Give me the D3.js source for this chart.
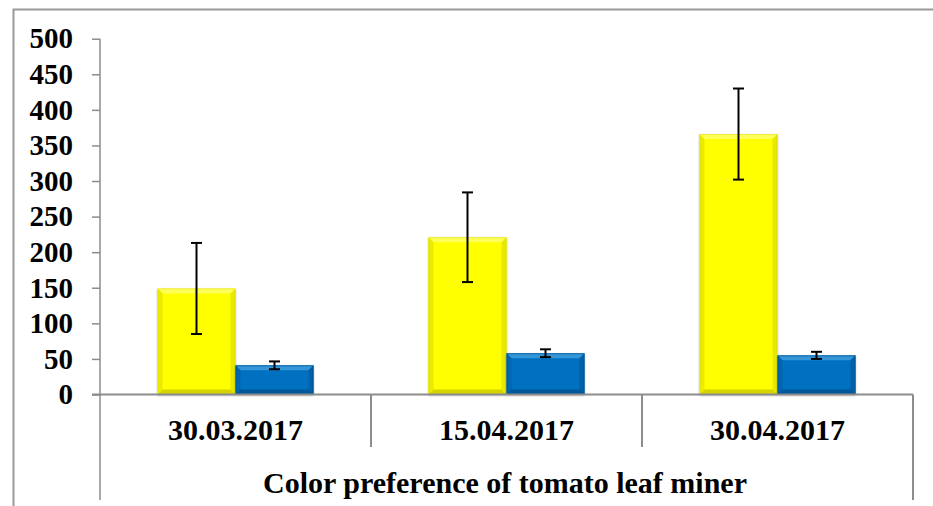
<!DOCTYPE html>
<html>
<head>
<meta charset="utf-8">
<script src="https://cdn.jsdelivr.net/npm/d3@7"></script>
<style>
  html, body { margin: 0; padding: 0; background: #fff; }
  svg { display: block; }
  text { font-family: "Liberation Serif", "Times New Roman", serif; font-weight: bold; fill: #000; }
</style>
</head>
<body>
<svg id="chart" width="933" height="506"></svg>
<script>
// ---- data ----
const categories = ["30.03.2017", "15.04.2017", "30.04.2017"];
const seriesNames = ["Yellow", "Blue"];
const yellowValues = [149, 221, 366];
const yellowErrors = [64, 63, 64];
const blueValues = [41, 58, 55];
const blueErrors = [5.5, 5.5, 5];
const yTicks = [0, 50, 100, 150, 200, 250, 300, 350, 400, 450, 500];
const axisTitle = "Color preference of tomato leaf miner";

(function () {
const series = [
  { name: seriesNames[0], values: yellowValues, errors: yellowErrors,
    fill: "#FFFF00", light: "#FFFF80", dark: "#E6E600", darker: "#C9C900", op: [0.7, 0.8, 0.9, 0.8], edge: 0.35 },
  { name: seriesNames[1], values: blueValues, errors: blueErrors,
    fill: "#0070C0", light: "#3D9BDB", dark: "#005A9E", darker: "#004F8A", op: [0.85, 0.45, 0.7, 0.7], edge: 0.6 }
];

const svg = d3.select("#chart");
const W = 933, H = 506;
const pL = 100, pR = 913, pT = 38.7, pB = 394.5;

svg.append("path")
  .attr("d", `M13.5,${H} L13.5,9.5 L${W},9.5`)
  .attr("fill", "none").attr("stroke", "#9a9a9a").attr("stroke-width", 2);

const y = d3.scaleLinear().domain([0, 500]).range([pB, pT]);
const x0 = d3.scaleBand().domain(categories).range([pL, pR]).padding(0);
const x1 = d3.scaleBand().domain(seriesNames)
  .range([57.5, x0.bandwidth() - 57.5]).padding(0);

const defs = svg.append("defs");
const f = defs.append("filter").attr("id", "sh").attr("x", "-20%").attr("y", "-20%")
  .attr("width", "140%").attr("height", "140%");
f.append("feDropShadow").attr("dx", 0).attr("dy", 1).attr("stdDeviation", 1.2)
  .attr("flood-color", "#000").attr("flood-opacity", 0.3);

const yAxis = svg.append("g").attr("transform", `translate(${pL},0)`)
  .call(d3.axisLeft(y).tickValues(yTicks).tickSize(8).tickPadding(19).tickFormat(d3.format("d")));
yAxis.attr("font-family", null).attr("font-size", null);
yAxis.select(".domain").remove();
yAxis.selectAll(".tick line").attr("stroke", "#8c8c8c").attr("stroke-width", 1.5);
yAxis.selectAll(".tick text")
  .style("font-family", '"Liberation Serif", "Times New Roman", serif')
  .style("font-weight", "bold").style("font-size", "29px").attr("fill", "#000");

const groups = svg.append("g").selectAll("g").data(categories).join("g")
  .attr("transform", d => `translate(${x0(d)},0)`);

series.forEach(s => {
  const bw = x1.bandwidth();
  const bx = x1(s.name);
  const bars = groups.append("g").attr("class", "bar").datum((d, i) => ({ v: s.values[i], e: s.errors[i] }));
  bars.append("rect")
    .attr("x", bx).attr("width", bw)
    .attr("y", d => y(d.v)).attr("height", d => y(0) - y(d.v))
    .attr("fill", s.fill).attr("filter", "url(#sh)");
  const b = 5;
  bars.append("path").attr("fill", s.light).attr("opacity", s.op[0])
    .attr("d", d => { const t = y(d.v); return `M${bx},${t} L${bx + bw},${t} L${bx + bw - b},${t + b} L${bx + b},${t + b} Z`; });
  bars.append("path").attr("fill", s.dark).attr("opacity", s.op[1])
    .attr("d", d => { const t = y(d.v), bt = y(0); return `M${bx},${t} L${bx + b},${t + b} L${bx + b},${bt - b} L${bx},${bt} Z`; });
  bars.append("path").attr("fill", s.dark).attr("opacity", s.op[2])
    .attr("d", d => { const t = y(d.v), bt = y(0); return `M${bx + bw},${t} L${bx + bw - b},${t + b} L${bx + bw - b},${bt - b} L${bx + bw},${bt} Z`; });
  bars.append("path").attr("fill", s.darker).attr("opacity", s.op[3])
    .attr("d", d => { const bt = y(0); return `M${bx},${bt} L${bx + b},${bt - b} L${bx + bw - b},${bt - b} L${bx + bw},${bt} Z`; });
  bars.append("rect")
    .attr("x", bx + 0.5).attr("width", bw - 1)
    .attr("y", d => y(d.v) + 0.5).attr("height", d => y(0) - y(d.v) - 1)
    .attr("fill", "none").attr("stroke", s.darker).attr("stroke-width", 1).attr("opacity", s.edge);
  const cx = bx + bw / 2, cap = 5.5;
  bars.append("line").attr("x1", cx).attr("x2", cx)
    .attr("y1", d => y(d.v + d.e)).attr("y2", d => y(d.v - d.e))
    .attr("stroke", "#000").attr("stroke-width", 2);
  bars.append("line").attr("x1", cx - cap).attr("x2", cx + cap)
    .attr("y1", d => y(d.v + d.e)).attr("y2", d => y(d.v + d.e))
    .attr("stroke", "#000").attr("stroke-width", 2);
  bars.append("line").attr("x1", cx - cap).attr("x2", cx + cap)
    .attr("y1", d => y(d.v - d.e)).attr("y2", d => y(d.v - d.e))
    .attr("stroke", "#000").attr("stroke-width", 2);
});

const axisCol = "#8c8c8c";
svg.append("line").attr("x1", pL).attr("x2", pL).attr("y1", pT).attr("y2", 500)
  .attr("stroke", axisCol).attr("stroke-width", 1.5);
svg.append("line").attr("x1", pL - 8).attr("x2", pR).attr("y1", pB).attr("y2", pB)
  .attr("stroke", axisCol).attr("stroke-width", 2);
svg.append("line").attr("x1", pR).attr("x2", pR).attr("y1", pB).attr("y2", 500)
  .attr("stroke", axisCol).attr("stroke-width", 2);
svg.append("g").selectAll("line").data(categories.slice(1)).join("line")
  .attr("x1", d => x0(d)).attr("x2", d => x0(d))
  .attr("y1", pB).attr("y2", 447)
  .attr("stroke", axisCol).attr("stroke-width", 2);

svg.append("g").selectAll("text").data(categories).join("text")
  .attr("x", d => x0(d) + x0.bandwidth() / 2).attr("y", 440)
  .attr("text-anchor", "middle").style("font-size", "30px")
  .text(d => d);

svg.append("text").attr("x", (pL + pR) / 2 - 1.5).attr("y", 493)
  .attr("text-anchor", "middle").style("font-size", "30px")
  .text(axisTitle);
})();
</script>
</body>
</html>
